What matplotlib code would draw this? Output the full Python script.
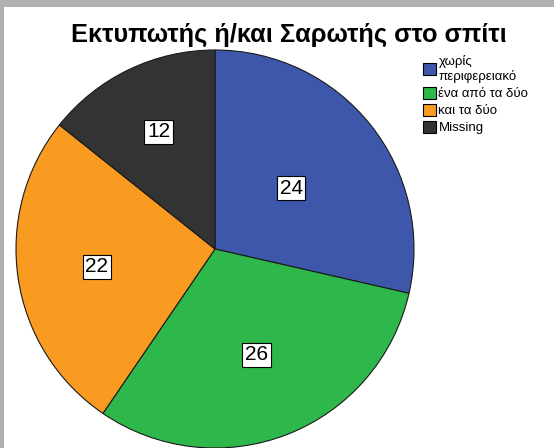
import matplotlib
matplotlib.use("Agg")
import numpy as np
import matplotlib.pyplot as plt
from matplotlib.patches import Patch, Rectangle

plt.rcParams['font.family'] = ['Liberation Sans', 'DejaVu Sans']

title = "Εκτυπωτής ή/και Σαρωτής στο σπίτι"
categories = ["χωρίς\nπεριφερειακό", "ένα από τα δύο", "και τα δύο", "Missing"]
counts = [24, 26, 22, 12]
colors = ["#3d57aa", "#2eb84b", "#f99a21", "#333333"]

# how far out (fraction of radius) each count label sits
label_radius = [0.49, 0.57, 0.60, 0.655]

W, H = 554, 448
fig = plt.figure(figsize=(W / 100, H / 100), dpi=100)
fig.patch.set_facecolor("white")

# grey frame strips (top and left), like the exported viewer window
fig.add_artist(Rectangle((0, 1 - 7 / H), 1, 7 / H, transform=fig.transFigure,
                         facecolor="#b0b0b0", edgecolor="none", zorder=0))
fig.add_artist(Rectangle((0, 0), 4 / W, 1, transform=fig.transFigure,
                         facecolor="#b0b0b0", edgecolor="none", zorder=0))

# pie centre ~ (215, 249) px, radius ~ 199 px
cx, cy, r = 215, 249, 199
ax = fig.add_axes([(cx - r) / W, (H - cy - r) / H, 2 * r / W, 2 * r / H])
wedges, _ = ax.pie(
    counts, colors=colors, startangle=90, counterclock=False, radius=1,
    wedgeprops=dict(edgecolor="#1a1a1a", linewidth=0.8),
)
for w, n, d in zip(wedges, counts, label_radius):
    ang = np.deg2rad((w.theta1 + w.theta2) / 2)
    ax.text(d * np.cos(ang), d * np.sin(ang), str(n), ha="center", va="center",
            fontsize=15,
            bbox=dict(boxstyle="square,pad=0.12", facecolor="white",
                      edgecolor="black", linewidth=0.8))
ax.set_xlim(-1, 1)
ax.set_ylim(-1, 1)
ax.set_aspect("auto")
ax.axis("off")

fig.text(289 / W, 1 - 35 / H, title, ha="center", va="center",
         fontsize=18.3, fontweight="bold")

handles = [Patch(facecolor=c, edgecolor="black", linewidth=0.8) for c in colors]
fig.legend(handles, categories, loc="upper left",
           bbox_to_anchor=(414 / W, 1 - 46 / H), frameon=False,
           fontsize=9.5, handlelength=1.0, handleheight=1.0,
           handletextpad=0.15, labelspacing=0.27, borderpad=0.2)

fig.savefig("out.png", dpi=100)
